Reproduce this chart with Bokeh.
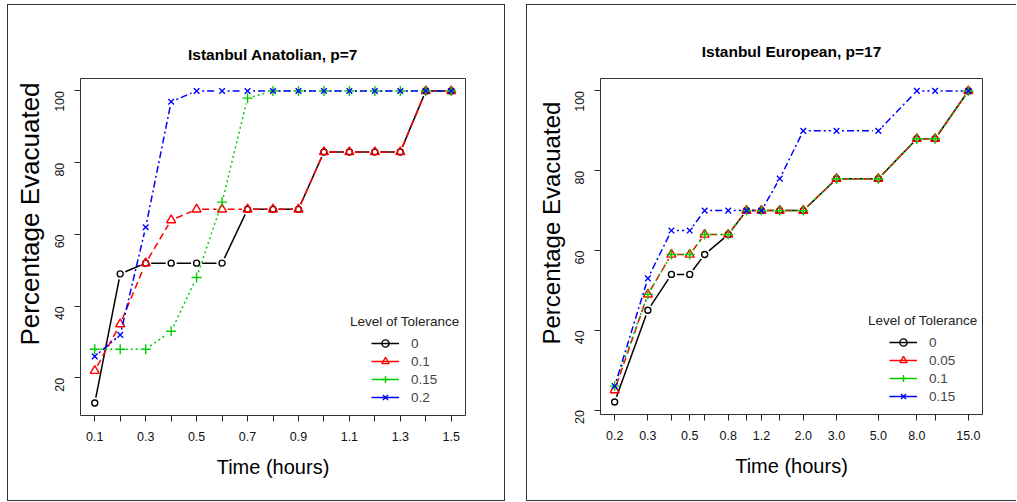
import math
from bokeh.plotting import figure
from bokeh.models import FixedTicker, Legend, LegendItem, Label, Range1d, Title
from bokeh.layouts import row
from bokeh.embed import file_html
from bokeh.resources import INLINE

# ---------------- data ----------------
ana_time = [0.1, 0.2, 0.3, 0.4, 0.5, 0.6, 0.7, 0.8, 0.9, 1.0, 1.1, 1.2, 1.3, 1.4, 1.5]
ana_tol_0 = [13, 49, 52, 52, 52, 52, 67, 67, 67, 83, 83, 83, 83, 100, 100]
ana_tol_01 = [22, 35, 52, 64, 67, 67, 67, 67, 67, 83, 83, 83, 83, 100, 100]
ana_tol_015 = [28, 28, 28, 33, 48, 69, 98, 100, 100, 100, 100, 100, 100, 100, 100]
ana_tol_02 = [26, 32, 62, 97, 100, 100, 100, 100, 100, 100, 100, 100, 100, 100, 100]
ana_labels = ["0", "0.1", "0.15", "0.2"]
ana_xticks = [0.1, 0.2, 0.3, 0.4, 0.5, 0.6, 0.7, 0.8, 0.9, 1.0, 1.1, 1.2, 1.3, 1.4, 1.5]
ana_xtick_labels = ["0.1", "", "0.3", "", "0.5", "", "0.7", "", "0.9", "", "1.1", "", "1.3", "", "1.5"]

eur_time = [0.2, 0.3, 0.4, 0.5, 0.6, 0.8, 1.0, 1.2, 1.5, 2.0, 3.0, 5.0, 8.0, 10.0, 15.0]
eur_tol_0 = [22, 45, 54, 54, 59, 64, 70, 70, 70, 70, 78, 78, 88, 88, 100]
eur_tol_005 = [25, 49, 59, 59, 64, 64, 70, 70, 70, 70, 78, 78, 88, 88, 100]
eur_tol_01 = [26, 49, 59, 59, 64, 64, 70, 70, 70, 70, 78, 78, 88, 88, 100]
eur_tol_015 = [26, 53, 65, 65, 70, 70, 70, 70, 78, 90, 90, 90, 100, 100, 100]
eur_labels = ["0", "0.05", "0.1", "0.15"]
eur_xticks = [0.2, 0.3, 0.4, 0.5, 0.6, 0.8, 1.0, 1.2, 1.5, 2.0, 3.0, 5.0, 8.0, 10.0, 15.0]
eur_xtick_labels = ["0.2", "0.3", "", "0.5", "", "0.8", "", "1.2", "", "2.0", "3.0", "5.0", "8.0", "", "15.0"]

y_ticks = [20, 40, 60, 80, 100]

# ---------------- styles ----------------
COLORS = ["black", "#FF0000", "#00CD00", "#0000FF"]
DASHES = ["solid", "7 4", "2 3", "2 3 7 3"]
MARKERS = ["circle", "triangle", "cross", "x"]
MSIZES = [6, 9, 10, 8]
FONT = "Liberation Sans"
BORDER = "1px solid #333333"


def ext(lo, hi, log=False):
    if log:
        a, b = math.log(lo), math.log(hi)
        d = 0.04 * (b - a)
        return math.exp(a - d), math.exp(b + d)
    d = 0.04 * (hi - lo)
    return lo - d, hi + d


def gap_segments(xs, ys, xr, yr, fw, fh, log_x, gap=5.5):
    fx = math.log if log_x else (lambda v: v)
    inv = math.exp if log_x else (lambda v: v)
    sx = fw / (fx(xr[1]) - fx(xr[0]))
    sy = fh / (yr[1] - yr[0])
    sxs, sys_ = [], []
    for i in range(len(xs) - 1):
        x0, x1 = fx(xs[i]), fx(xs[i + 1])
        y0, y1 = ys[i], ys[i + 1]
        d = math.hypot((x1 - x0) * sx, (y1 - y0) * sy)
        if d <= 2 * gap:
            continue
        t = gap / d
        sxs.append([inv(x0 + (x1 - x0) * t), inv(x1 - (x1 - x0) * t)])
        sys_.append([y0 + (y1 - y0) * t, y1 - (y1 - y0) * t])
    return sxs, sys_


def make_panel(title, xs, series, labels, xticks, xtick_labels, log_x,
               fw, fh, mb_left, mb_right, mb_top, mb_bottom, border_style,
               title_standoff, ylab_size):
    xr = ext(min(xs), max(xs), log_x)
    all_y = [v for s in series for v in s]
    yr = ext(min(all_y), max(all_y))
    p = figure(
        frame_width=fw, frame_height=fh,
        min_border_left=mb_left, min_border_right=mb_right,
        min_border_top=mb_top, min_border_bottom=mb_bottom,
        x_axis_type="log" if log_x else "linear",
        x_range=Range1d(*xr), y_range=Range1d(*yr),
        output_backend="svg", toolbar_location=None,
        title=title, styles=border_style,
    )
    p.title.text_font = FONT
    p.title.text_font_size = "15.5px"
    p.title.text_font_style = "bold"
    p.title.text_color = "black"
    p.title.align = "center"
    p.title.standoff = title_standoff

    p.xgrid.visible = False
    p.ygrid.visible = False
    p.outline_line_color = "#333333"
    p.outline_line_width = 1

    for ax in (p.xaxis[0], p.yaxis[0]):
        ax.axis_line_color = None
        ax.major_tick_out = 6
        ax.major_tick_in = 0
        ax.minor_tick_line_color = None
        ax.major_tick_line_color = "#222222"
        ax.major_label_text_font = FONT
        ax.major_label_text_font_size = "12.5px"
        ax.major_label_text_color = "#111111"
        ax.axis_label_text_font = FONT
        ax.axis_label_text_font_style = "normal"
        ax.axis_label_text_color = "black"

    p.xaxis.ticker = FixedTicker(ticks=xticks)
    p.xaxis.major_label_overrides = {t: l for t, l in zip(xticks, xtick_labels)}
    p.xaxis.major_label_standoff = 10
    p.xaxis.axis_label = "Time (hours)"
    p.xaxis.axis_label_text_font_size = "20px"
    p.xaxis.axis_label_standoff = 12

    p.yaxis.ticker = FixedTicker(ticks=y_ticks)
    p.yaxis.major_label_orientation = math.pi / 2
    p.yaxis.major_label_standoff = 15

    # y-axis title, anchored at its lower end like the reference
    p.add_layout(Title(text="Percentage Evacuated", align="left", offset=70,
                       text_font=FONT, text_font_size=ylab_size,
                       text_font_style="normal", text_color="black",
                       standoff=5), "left")

    items = []
    for i, ys in enumerate(series):
        sx, sy = gap_segments(xs, ys, xr, yr, fw, fh, log_x)
        p.multi_line(sx, sy, line_color=COLORS[i], line_width=1.5,
                     line_dash=DASHES[i])
        sr = p.scatter(xs, ys, marker=MARKERS[i], size=MSIZES[i],
                       line_color=COLORS[i], fill_color=None, line_width=1.4)
        # one-point line: invisible in the plot, gives a solid legend key
        key = p.line(xs[:1], ys[:1], line_color=COLORS[i], line_width=1.5)
        items.append(LegendItem(label=labels[i], renderers=[key, sr]))

    leg = Legend(items=items, location=(fw - 92, 9),
                 border_line_color=None, background_fill_alpha=0,
                 label_text_font=FONT, label_text_font_size="13.5px",
                 glyph_width=28, glyph_height=18, label_height=18,
                 spacing=0, padding=0, margin=0, label_standoff=12)
    p.add_layout(leg)
    p.add_layout(Label(x=fw - 4, y=94, x_units="screen", y_units="screen",
                       text="Level of Tolerance", text_font=FONT,
                       text_font_size="13.5px", text_align="right",
                       text_baseline="middle", text_color="#222222"))
    return p


left = make_panel("Istanbul Anatolian, p=7", ana_time,
                  [ana_tol_0, ana_tol_01, ana_tol_015, ana_tol_02], ana_labels,
                  ana_xticks, ana_xtick_labels, False, 383, 335, 72, 41, 73, 87,
                  {"border": BORDER}, 31, "26px")
right = make_panel("Istanbul European, p=17", eur_time,
                   [eur_tol_0, eur_tol_005, eur_tol_01, eur_tol_015], eur_labels,
                   eur_xticks, eur_xtick_labels, True, 381, 334, 73, 35, 73, 88,
                   {"border-top": BORDER, "border-left": BORDER,
                    "border-bottom": BORDER}, 37, "24px")

layout = row(left, right, spacing=21, margin=(4, 0, 0, 7))
open("out.html", "w").write(file_html(layout, INLINE))
